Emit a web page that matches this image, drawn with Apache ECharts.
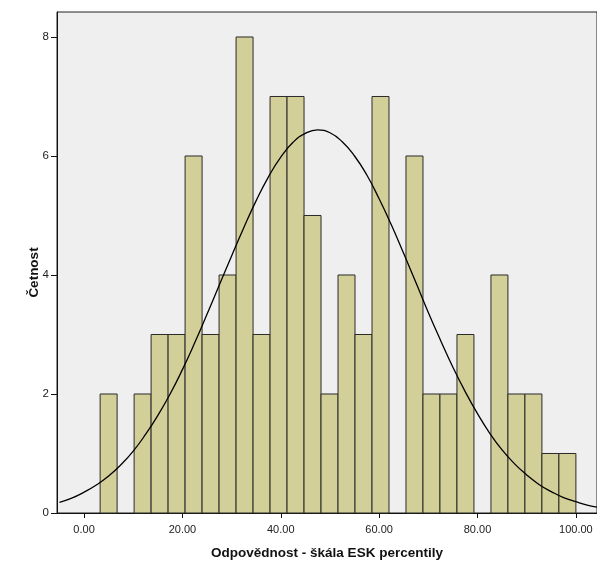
<!DOCTYPE html>
<html>
<head>
<meta charset="utf-8">
<script src="https://cdn.jsdelivr.net/npm/echarts@6/dist/echarts.min.js"></script>
<style>
html,body{margin:0;padding:0;background:#fff;}
#hist{width:597px;height:567px;}
</style>
</head>
<body>
<div id="hist"></div>
<script>
var chart=echarts.init(document.getElementById('hist'));

// histogram bins (first edge + width), counts
var binStart=3.27;
var binWidth=3.455;
var counts=[2,0,2,3,3,6,3,4,8,3,7,7,5,2,4,3,7,0,6,2,2,3,0,4,2,2,1,1];

// normal curve, points
var curveX=[-5,-2.5,0,2.5,5,7.5,10,12.5,15,17.5,20,22.5,25,27.5,30,32.5,35,37.5,40,42.5,45,47.5,50,52.5,55,57.5,60,62.5,65,67.5,70,72.5,75,77.5,80,82.5,85,87.5,90,92.5,95,97.5,100,102.5,105];
var curveY=[0.18,0.25,0.35,0.47,0.62,0.81,1.04,1.32,1.64,2.0,2.41,2.86,3.34,3.83,4.32,4.8,5.25,5.65,5.98,6.23,6.38,6.44,6.39,6.24,6.0,5.68,5.28,4.84,4.36,3.87,3.37,2.9,2.45,2.04,1.67,1.34,1.06,0.83,0.64,0.48,0.36,0.26,0.19,0.13,0.09];

var xTicks=[0,20,40,60,80,100];
var yTicks=[0,2,4,6,8];

var bars=[];
for(var i=0;i<counts.length;i++){
    if(counts[i]>0) bars.push([binStart+i*binWidth,binStart+(i+1)*binWidth,counts[i]]);
}
var curve=[];
for(var j=0;j<curveX.length;j++) curve.push([curveX[j],curveY[j]]);

var font='"Liberation Sans", Arial, sans-serif';

var option={
    animation:false,
    backgroundColor:'#ffffff',
    grid:{
        left:57,
        right:0,
        top:12,
        bottom:54,
        show:true,
        backgroundColor:'#efefef',
        borderColor:'#222',
        borderWidth:1
    },
    xAxis:{
        type:'value',
        min:-5.5,
        max:104.3,
        name:'Odpovědnost - škála ESK percentily',
        nameLocation:'middle',
        nameGap:33,
        nameMoveOverlap:false,
        nameTextStyle:{fontFamily:font,fontSize:13.5,fontWeight:'bold',color:'#111'},
        axisLine:{onZero:false,lineStyle:{color:'#111',width:1}},
        axisTick:{show:true,length:5,customValues:xTicks,lineStyle:{color:'#111'}},
        axisLabel:{
            customValues:xTicks,
            margin:11,
            fontFamily:font,fontSize:11,color:'#222',
            formatter:function(v){return v.toFixed(2);}
        },
        splitLine:{show:false}
    },
    yAxis:{
        type:'value',
        min:0,
        max:8.42,
        name:'Četnost',
        nameLocation:'middle',
        nameGap:16,
        nameMoveOverlap:false,
        nameTextStyle:{fontFamily:font,fontSize:13.5,fontWeight:'bold',color:'#111',padding:[0,20,0,0]},
        axisLine:{show:true,onZero:false,lineStyle:{color:'#111',width:1}},
        axisTick:{show:true,length:6,customValues:yTicks,lineStyle:{color:'#111'}},
        axisLabel:{customValues:yTicks,margin:8,fontFamily:font,fontSize:11.5,color:'#222'},
        splitLine:{show:false}
    },
    series:[
        {
            type:'custom',
            name:'Četnost',
            data:bars,
            encode:{x:[0,1],y:2},
            renderItem:function(params,api){
                var p0=api.coord([api.value(0),0]);
                var p1=api.coord([api.value(1),api.value(2)]);
                return {
                    type:'rect',
                    shape:{x:p0[0],y:p1[1],width:p1[0]-p0[0],height:p0[1]-p1[1]},
                    style:{fill:'#d3cf98',stroke:'#2a2a2a',lineWidth:1}
                };
            },
            z:2
        },
        {
            type:'line',
            name:'Normal',
            data:curve,
            smooth:true,
            symbol:'none',
            lineStyle:{color:'#000',width:1.3},
            z:3
        }
    ]
};
chart.setOption(option);
</script>
</body>
</html>
